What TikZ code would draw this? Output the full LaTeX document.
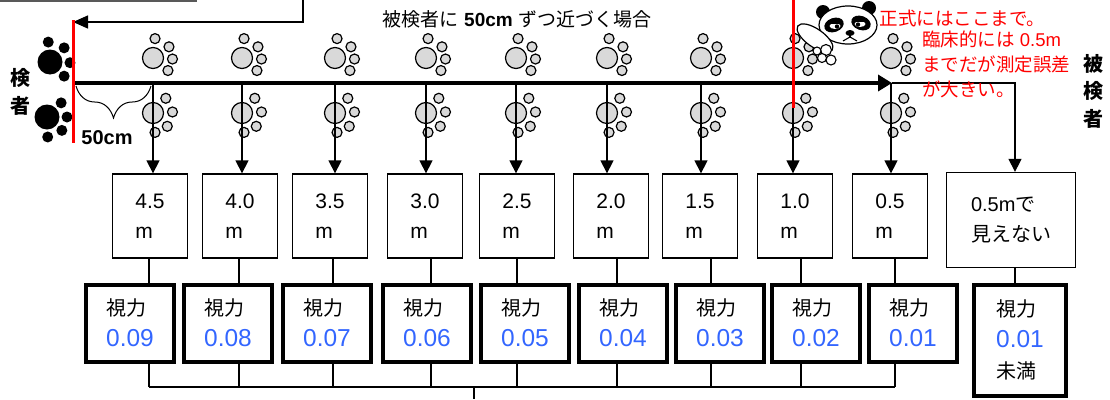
\documentclass[tikz,border=0pt]{standalone}
\usepackage{fontspec}
\setmainfont{Liberation Sans}
\newfontfamily\jp{Noto Sans CJK JP}
\usetikzlibrary{arrows.meta,decorations.pathreplacing}
\definecolor{vblue}{RGB}{51,102,255}

\begin{document}
\begin{tikzpicture}[x=1pt,y=-1pt,
    paw/.style={draw, line width=1.2pt, fill=gray!30},
    mbox/.style={draw, line width=1.3pt, minimum width=75pt, minimum height=84pt,
      inner sep=0pt, align=left, font=\fontsize{21}{30}\selectfont},
    vbox/.style={draw, line width=4pt, minimum width=88pt, minimum height=77pt,
      inner sep=0pt, align=left, font=\fontsize{20}{31}\selectfont},
    tip/.style={-{Triangle[width=13pt,length=13pt]}},
    link/.style={line width=1.3pt}]
  \useasboundingbox (0,0) rectangle (1110,399);

  % paw prints of the patient, one pair per step
  \foreach \x in {153,242,335,426,516,607,701,793,891} {
    \draw[paw] (\x,58) circle (10.5);
    \foreach \a in {-84,-35,3,40}
      \draw[paw] (\x,58) ++(\a:19.5) circle (5);
    \draw[paw] (\x,113) circle (10.5);
    \foreach \a in {-49,-3,43,84}
      \draw[paw] (\x,113) ++(\a:19.5) circle (5);
  }
  % examiner's paws
  \fill (50,62) circle (12.5);
  \foreach \a in {-95,-45,2,45}
    \fill (50,62) ++(\a:20) circle (5.5);
  \fill (47,117) circle (12.5);
  \foreach \a in {-45,0,42,88}
    \fill (47,117) ++(\a:20) circle (5.5);

  \node[font=\jp\bfseries\fontsize{20}{28}\selectfont, align=center] (examiner) at (20,92) {検\\者};
  \node[font=\jp\bfseries\fontsize{20}{27.5}\selectfont, align=center] (patient) at (1093,91) {被\\検\\者};
  \node[font=\fontsize{19}{19}\selectfont] (title) at (517,19)
    {{\jp 被検者に} \textbf{50cm} {\jp ずつ近づく場合}};

  % walking line
  \coordinate (from) at (75,83);
  \coordinate (turn) at (892,83);
  \draw[line width=4pt, -{Triangle[width=16pt,length=14pt]}] (from) -- (turn);
  \draw[line width=1pt, decorate, decoration={brace, mirror, amplitude=32pt}]
    (76,86) -- (151,86);
  \node[font=\bfseries\fontsize{20}{20}\selectfont] (step) at (107,138) {50cm};

  % distance boxes and acuity boxes
  \coordinate (bus) at (0,387);
  \foreach \i/\ax/\mx/\cx/\vx/\d/\v in {1/153/150/149/130/4.5/0.09,
      2/242/240/239/228/4.0/0.08, 3/335/330/333/327/3.5/0.07,
      4/426/425/431/427/3.0/0.06, 5/516/517/517/525/2.5/0.05,
      6/607/611/617/623/2.0/0.04, 7/701/700/711/720/1.5/0.03,
      8/793/795/801/816/1.0/0.02, 9/891/890/895/913/0.5/0.01} {
    \node[mbox] (m\i) at (\mx,216) {\d\\m};
    \node[vbox] (v\i) at (\vx,323)
      {{\jp 視力}\\{\fontsize{24.5}{24}\selectfont\color{vblue}\v}};
    \coordinate (p\i) at (\ax,83);
    \coordinate (c\i) at (\cx,300);
    \draw[link,tip] (p\i) -- (p\i |- m\i.north);
    \draw[link] (c\i |- m\i.south) -- (c\i |- v\i.north);
    \draw[link] (c\i |- v\i.south) -- (c\i |- bus);
  }
  \draw[link] (c1 |- bus) -- (c9 |- bus);
  \coordinate (stub) at (474,387);
  \coordinate (stubend) at (474,399);
  \draw[link] (stub) -- (stubend);

  % cannot see at 0.5 m
  \node[mbox, minimum width=129pt, minimum height=95pt, font=\fontsize{20}{30}\selectfont] (m10) at (1011,220)
    {0.5m{\jp で}\\{\jp 見えない}};
  \node[vbox, minimum width=92pt, minimum height=111pt] (v10) at (1020,340)
    {{\jp 視力}\\{\fontsize{24.5}{24}\selectfont\color{vblue}0.01}\\{\jp 未満}};
  \coordinate (c10) at (1015,83);
  \draw[link,tip] (turn) -- (c10) -- (c10 |- m10.north);
  \draw[link] (c10 |- m10.south) -- (c10 |- v10.north);

  % going back to the start
  \draw[line width=1.5pt, gray!70!black] (0,1) -- (197,1);
  \coordinate (backin) at (303,0);
  \coordinate (backbend) at (303,22);
  \coordinate (rtop) at (73,20);
  \coordinate (rbot) at (73,143);
  \draw[link, -{Triangle[width=13pt,length=15pt]}] (backin) -- (backbend) -- (rtop |- backbend);
  \draw[red, line width=3pt] (rtop) -- (rbot);

  % panda pointing at the limit
  \fill (823,12) circle (7);
  \fill (869,8) circle (7);
  \draw[fill=white, line width=1.2pt] (848,25) ellipse (29 and 19);
  \fill[rotate around={20:(834,25)}] (834,25) ellipse (10 and 7);
  \fill[rotate around={-20:(861,23)}] (861,23) ellipse (10 and 7);
  \fill[white] (835,26) ellipse (5.5 and 3);
  \fill[white] (860,24) ellipse (5.5 and 3);
  \fill (837,26.5) circle (2.2);
  \fill (858,24.5) circle (2.2);
  \draw[line width=1.2pt] (829,23.5) -- (841,23.5);
  \draw[line width=1.2pt] (854,21.5) -- (866,21.5);
  \fill (850,33) ellipse (4.5 and 3);
  \draw[line width=1.1pt] (850,35) -- (850,37);
  \draw[line width=1.1pt] (843,41) -- (850,37) -- (857,41);
  \draw[fill=white, line width=1.2pt, rotate around={-35:(815,38)}] (815,38) ellipse (21 and 9);
  \foreach \p/\r in {(826,50)/5.5,(822,58)/4.5,(831,60)/5,(817,51)/4}
    \draw[fill=white, line width=1.1pt] \p circle (\r);

  \coordinate (gtop) at (793,0);
  \coordinate (gbot) at (793,108);
  \draw[red, line width=3pt] (gtop) -- (gbot);
  \node[red, font=\jp\fontsize{18.5}{18.5}\selectfont, anchor=west] (note) at (876,19)
    {正式にはここまで。};
  \node[red, font=\fontsize{18.5}{25}\selectfont, anchor=north west, align=left, inner sep=0pt] (note2) at (922,31)
    {{\jp 臨床的には} 0.5m\\{\jp までだが測定誤差}\\{\jp が大きい。}};
\end{tikzpicture}
\end{document}
